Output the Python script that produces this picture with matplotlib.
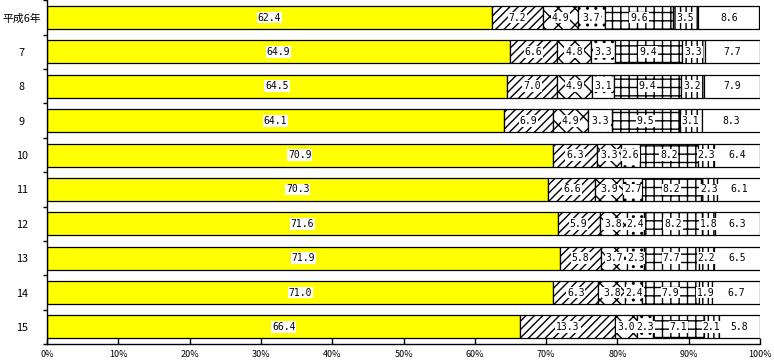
import numpy as np
import matplotlib.pyplot as plt

plt.rcParams['font.family'] = ['Noto Sans CJK JP', 'DejaVu Sans']
plt.rcParams['hatch.linewidth'] = 1.0

# 年次
years = ["平成6年", "7", "8", "9", "10", "11", "12", "13", "14", "15"]

# 構成比 (%)
seg1 = [62.4, 64.9, 64.5, 64.1, 70.9, 70.3, 71.6, 71.9, 71.0, 66.4]
seg2 = [7.2, 6.6, 7.0, 6.9, 6.3, 6.6, 5.9, 5.8, 6.3, 13.3]
seg3 = [4.9, 4.8, 4.9, 4.9, 3.3, 3.9, 3.8, 3.7, 3.8, 3.0]
seg4 = [3.7, 3.3, 3.1, 3.3, 2.6, 2.7, 2.4, 2.3, 2.4, 2.3]
seg5 = [9.6, 9.4, 9.4, 9.5, 8.2, 8.2, 8.2, 7.7, 7.9, 7.1]
seg6 = [3.5, 3.3, 3.2, 3.1, 2.3, 2.3, 1.8, 2.2, 1.9, 2.1]
seg7 = [8.6, 7.7, 7.9, 8.3, 6.4, 6.1, 6.3, 6.5, 6.7, 5.8]

series = [seg1, seg2, seg3, seg4, seg5, seg6, seg7]
colors = ['#ffff00', 'white', 'white', 'white', 'white', 'white', 'white']
hatches = [None, '////', 'xx', '..', '++', '|||', None]

fig = plt.figure(figsize=(7.74, 3.63), dpi=100)
ax = fig.add_axes([0.0607, 0.052, 0.9213, 0.947])

y = np.arange(len(years))
left = np.zeros(len(years))
for vals, col, h in zip(series, colors, hatches):
    vals = np.array(vals)
    ax.barh(y, vals, left=left, height=0.67, color=col, hatch=h,
            edgecolor='black', linewidth=0.9)
    for yi, (l, v) in enumerate(zip(left, vals)):
        ax.text(l + v / 2, yi, f"{v:.1f}", ha='center', va='center',
                fontsize=7, family=['DejaVu Sans Mono'],
                bbox=dict(facecolor='white', edgecolor='none', pad=0.6))
    left += vals

ax.set_xlim(0, 100)
ax.set_ylim(len(years) - 0.5, -0.5)
ax.set_xticks(np.arange(0, 101, 10))
ax.set_xticklabels([f"{v}%" for v in range(0, 101, 10)], fontsize=6.5)
ax.tick_params(axis='x', direction='in', length=4, width=1, pad=4)

ax.set_yticks(y)
ax.set_yticklabels(years, fontsize=7.8, ha='center')
ax.tick_params(axis='y', length=0, pad=18)
ax.set_yticks(np.arange(-0.5, len(years), 1), minor=True)
ax.tick_params(axis='y', which='minor', direction='out', length=3, width=1)

for s in ['top', 'right']:
    ax.spines[s].set_visible(False)
ax.spines['left'].set_linewidth(1)
ax.spines['bottom'].set_linewidth(1)

fig.savefig("out.png", dpi=100)
